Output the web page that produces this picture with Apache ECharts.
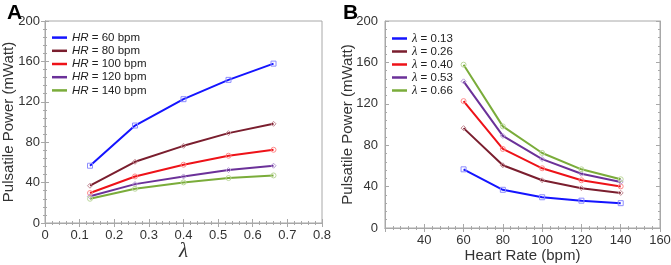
<!DOCTYPE html>
<html>
<head>
<meta charset="utf-8">
<script src="https://cdn.jsdelivr.net/npm/echarts@6/dist/echarts.min.js"></script>
<style>
  html, body { margin: 0; padding: 0; background: #fff; }
  #chart { width: 671px; height: 265px; }
</style>
</head>
<body>
<div id="chart"></div>
<script>
var lambdaVals = [0.13, 0.26, 0.40, 0.53, 0.66];
var hrVals = [60, 80, 100, 120, 140];
var yTicks = [0, 40, 80, 120, 160, 200];
// pulsatile power (mWatt) for each heart rate, over lambdaVals
var power60 = [56.7, 96.5, 122.6, 141.7, 157.8];
var power80 = [36.9, 60.6, 76.4, 89.0, 98.2];
var power100 = [29.7, 46.1, 57.7, 66.6, 72.5];
var power120 = [26.4, 38.5, 46.1, 52.4, 56.7];
var power140 = [24.0, 33.9, 40.2, 44.5, 47.1];

var powerRows = [power60, power80, power100, power120, power140];
var lineColors = ['#1414ff', '#7a1e2e', '#ee1218', '#6b3199', '#7aac3a'];
var markColors = ['#8c8cff', '#c48a94', '#ff8a8a', '#b498d4', '#bcd89c'];
var marks = ['rect', 'diamond', 'circle', 'diamond', 'circle'];

var labelColor = '#333';
var frameColor = '#a8a8a8';
var font = 'Liberation Sans, Arial, sans-serif';
var serif = 'Liberation Serif, DejaVu Serif, serif';

function frameAxis(extra) {
    var ax = {
        type: 'value',
        axisLine: { show: true, lineStyle: { color: frameColor } },
        axisTick: { show: true, inside: true, length: 4, lineStyle: { color: frameColor } },
        minorTick: { show: true, splitNumber: 5, length: 2, lineStyle: { color: frameColor } },
        splitLine: { show: false },
        axisLabel: { show: false },
        nameMoveOverlap: false
    };
    return Object.assign(ax, extra);
}

function mainLabel(margin) {
    return { show: true, color: labelColor, fontSize: 13, fontFamily: font, margin: margin };
}

var series = [];
var legendA = [], legendB = [];

// panel A: one line per heart rate
powerRows.forEach(function (row, i) {
    var name = 'HR = ' + hrVals[i] + ' bpm';
    legendA.push({ name: name, itemStyle: { color: lineColors[i], borderWidth: 0 } });
    series.push({
        name: name,
        type: 'line',
        xAxisIndex: 0,
        yAxisIndex: 0,
        data: lambdaVals.map(function (l, j) { return [l, row[j]]; }),
        symbol: marks[i],
        symbolSize: 5,
        lineStyle: { color: lineColors[i], width: 2 },
        itemStyle: { color: 'rgba(0,0,0,0)', borderColor: markColors[i], borderWidth: 1 },
        emphasis: { disabled: true }
    });
});

// panel B: one line per lambda
lambdaVals.forEach(function (l, j) {
    var name = 'λ = ' + l.toFixed(2);
    legendB.push({ name: name, itemStyle: { color: lineColors[j], borderWidth: 0 } });
    series.push({
        name: name,
        type: 'line',
        xAxisIndex: 2,
        yAxisIndex: 2,
        data: hrVals.map(function (hr, i) { return [hr, powerRows[i][j]]; }),
        symbol: marks[j],
        symbolSize: 5,
        lineStyle: { color: lineColors[j], width: 2 },
        itemStyle: { color: 'rgba(0,0,0,0)', borderColor: markColors[j], borderWidth: 1 },
        emphasis: { disabled: true }
    });
});

var chart = echarts.init(document.getElementById('chart'));
chart.setOption({
    animation: false,
    backgroundColor: '#fff',
    title: [
        { text: 'A', left: 2, top: -2, textStyle: { fontSize: 21, fontWeight: 'bold', color: '#000', fontFamily: font } },
        { text: 'B', left: 338, top: -2, textStyle: { fontSize: 21, fontWeight: 'bold', color: '#000', fontFamily: font } }
    ],
    grid: [
        { left: 45, right: 349, top: 21, bottom: 42, show: true, borderColor: frameColor, borderWidth: 1, outerBoundsMode: 'none' },
        { left: 385, right: 11, top: 21, bottom: 37, show: true, borderColor: frameColor, borderWidth: 1, outerBoundsMode: 'none' }
    ],
    legend: [
        {
            data: legendA, orient: 'vertical', left: 47, top: 26,
            icon: 'rect', itemWidth: 15, itemHeight: 2.5, itemGap: 0,
            selectedMode: false,
            formatter: function (n) { return '{i|HR}' + n.slice(2); },
            textStyle: {
                fontSize: 11.5, color: '#222', fontFamily: font, lineHeight: 13.2,
                rich: { i: { fontStyle: 'italic', fontSize: 11.5, fontFamily: font, lineHeight: 13.2 } }
            }
        },
        {
            data: legendB, orient: 'vertical', left: 387, top: 27,
            icon: 'rect', itemWidth: 15, itemHeight: 2.5, itemGap: 0,
            selectedMode: false,
            formatter: function (n) { return '{l|λ}' + n.slice(1); },
            textStyle: {
                fontSize: 11.5, color: '#222', fontFamily: font, lineHeight: 13,
                rich: { l: { fontStyle: 'italic', fontSize: 12.5, fontFamily: serif, lineHeight: 13 } }
            }
        }
    ],
    xAxis: [
        frameAxis({
            gridIndex: 0, position: 'bottom', min: 0, max: 0.8, interval: 0.1,
            axisLabel: mainLabel(6),
            name: 'λ', nameLocation: 'middle', nameGap: 18,
            nameTextStyle: { fontSize: 21, fontStyle: 'italic', color: labelColor, fontFamily: serif }
        }),
        frameAxis({ gridIndex: 0, position: 'top', min: 0, max: 0.8, interval: 0.1 }),
        frameAxis({
            gridIndex: 1, position: 'bottom', min: 20, max: 160, interval: 20,
            axisLabel: Object.assign(mainLabel(6), { showMinLabel: false }),
            name: 'Heart Rate (bpm)', nameLocation: 'middle', nameGap: 20,
            nameTextStyle: { fontSize: 15, color: labelColor, fontFamily: font }
        }),
        frameAxis({ gridIndex: 1, position: 'top', min: 20, max: 160, interval: 20 })
    ],
    yAxis: [
        frameAxis({
            gridIndex: 0, position: 'left', min: yTicks[0], max: yTicks[yTicks.length - 1], interval: 40,
            axisLabel: mainLabel(5),
            name: 'Pulsatile Power (mWatt)', nameLocation: 'middle', nameGap: 29,
            nameTextStyle: { fontSize: 15, color: labelColor, fontFamily: font }
        }),
        frameAxis({ gridIndex: 0, position: 'right', min: 0, max: 200, interval: 40 }),
        frameAxis({
            gridIndex: 1, position: 'left', min: yTicks[0], max: yTicks[yTicks.length - 1], interval: 40,
            axisLabel: mainLabel(7),
            name: 'Pulsatile Power (mWatt)', nameLocation: 'middle', nameGap: 30,
            nameTextStyle: { fontSize: 15, color: labelColor, fontFamily: font }
        }),
        frameAxis({ gridIndex: 1, position: 'right', min: 0, max: 200, interval: 40 })
    ],
    series: series
});
</script>
</body>
</html>
